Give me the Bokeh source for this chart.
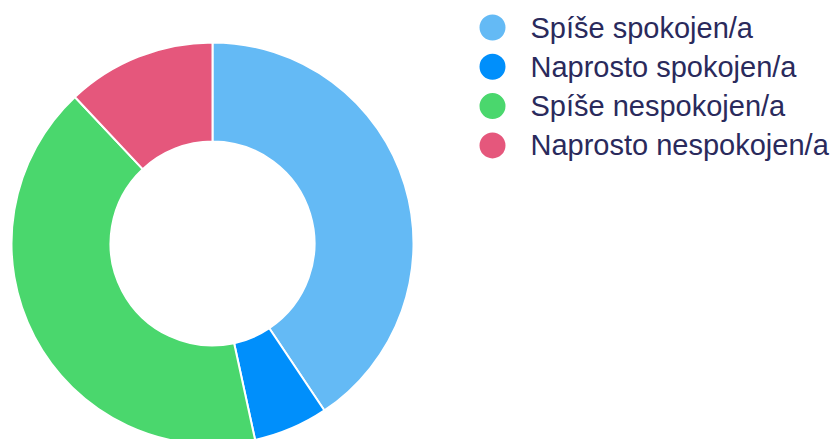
import math
from bokeh.plotting import figure
from bokeh.models import Range1d, ColumnDataSource
from bokeh.core.properties import value
from bokeh.embed import file_html
from bokeh.resources import INLINE

categories = ["Spíše spokojen/a", "Naprosto spokojen/a", "Spíše nespokojen/a", "Naprosto nespokojen/a"]
shares = [40.6, 6.0, 41.4, 12.0]
colors = ["#64baf5", "#008ffb", "#4ad76d", "#e5577c"]

W, H = 835, 439
cx, cy = 212, H - 243
r_in, r_out = 102, 201

total = sum(shares)
starts, ends = [], []
acc = 0.0
for s in shares:
    starts.append(math.pi / 2 - acc / total * 2 * math.pi)
    acc += s
    ends.append(math.pi / 2 - acc / total * 2 * math.pi)

src = ColumnDataSource(dict(start=starts, end=ends, color=colors, label=categories,
                            x=[cx] * 4, y=[cy] * 4))

p = figure(width=W, height=H, output_backend="svg", toolbar_location=None,
           x_range=Range1d(0, W), y_range=Range1d(0, H), min_border=0)
p.axis.visible = False
p.grid.visible = False
p.outline_line_color = None
p.background_fill_color = "white"

p.annular_wedge(x="x", y="y", inner_radius=r_in, outer_radius=r_out,
                start_angle="start", end_angle="end", direction="clock",
                fill_color="color", line_color="white", line_width=2, source=src)

# legend (layout computed from index)
lx, ly0, step = 492, H - 27, 39.3
leg = ColumnDataSource(dict(
    x=[lx] * len(categories),
    tx=[lx + 38] * len(categories),
    y=[ly0 - i * step for i in range(len(categories))],
    label=categories, color=colors))
p.scatter(x="x", y="y", size=26, marker="circle", fill_color="color", line_color=None, source=leg)
p.text(x="tx", y="y", text="label", source=leg, text_font=value("Liberation Sans"),
       text_font_size="29px", text_color="#2a2a5c", text_baseline="middle", text_align="left")

open("out.html", "w").write(file_html(p, INLINE))
